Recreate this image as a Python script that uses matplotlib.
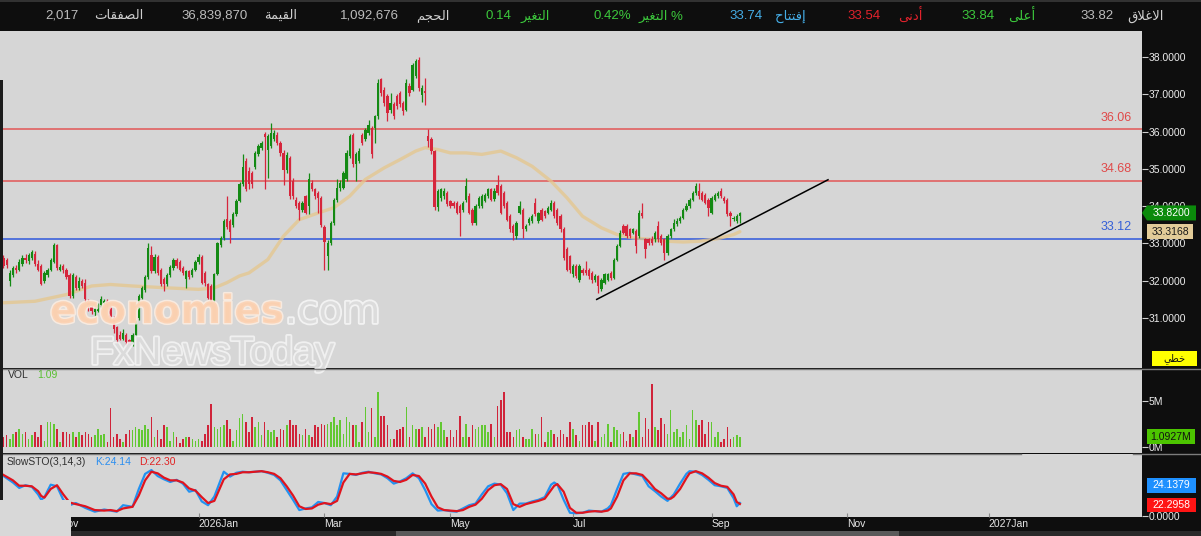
import numpy as np
import pandas as pd
import matplotlib
matplotlib.use("Agg")
import matplotlib.pyplot as plt
from matplotlib.patches import Rectangle, Polygon
from matplotlib.ticker import FormatStrFormatter
import matplotlib.patheffects as pe

# ---------------- data ----------------
first_day = "2025-10-07"
market_holidays = ["2026-02-22", "2026-03-18", "2026-03-19", "2026-03-22", "2026-03-23",
                   "2026-03-24", "2026-05-26", "2026-05-27", "2026-05-28", "2026-05-31"]

open_ = [
32.62,32.55,32.00,32.15,32.35,32.28,32.45,32.62,32.52,32.62,
32.72,32.45,32.40,32.00,32.15,32.30,32.50,32.95,32.30,32.40,
32.30,32.15,31.60,32.10,31.80,32.00,31.95,31.45,31.30,31.15,
31.20,31.35,31.40,31.45,31.30,31.00,30.75,30.55,30.45,30.55,
30.40,30.30,30.55,31.00,31.55,31.75,32.10,32.70,32.25,32.65,
32.30,32.05,31.90,32.15,32.35,32.55,32.50,32.35,32.05,32.25,
32.15,32.30,32.50,32.65,32.20,31.90,31.85,31.45,32.18,32.95,
33.15,33.65,33.60,33.50,33.80,34.15,34.60,35.20,34.95,34.90,
35.05,35.40,35.55,35.95,35.52,35.61,35.80,35.92,35.70,35.43,
34.98,35.30,34.67,34.18,34.09,33.91,34.27,34.00,34.63,34.45,
34.36,34.22,33.45,32.66,33.02,33.56,34.18,34.49,34.49,34.72,
35.34,35.92,35.12,35.20,35.92,35.79,35.97,36.10,36.10,36.41,
37.40,37.13,36.95,36.59,36.73,36.95,37.04,36.77,36.59,37.22,
37.13,37.49,37.93,36.99,37.08,35.88,35.79,35.48,33.99,34.22,
34.27,34.36,34.13,34.09,34.09,34.00,33.91,34.18,34.27,33.91,
33.56,34.00,34.00,34.13,34.27,34.45,34.20,34.58,34.54,34.36,
34.09,33.73,33.47,33.20,33.82,33.91,33.38,33.56,33.60,34.09,
33.60,33.91,33.86,33.82,33.91,34.09,33.91,33.73,33.38,32.84,
32.66,32.17,32.39,32.03,32.30,32.30,32.30,32.21,32.03,32.12,
31.77,31.95,32.03,32.21,32.08,32.57,32.93,33.47,33.47,33.38,
33.29,33.33,33.20,33.82,33.11,33.11,33.11,33.11,33.47,33.20,
33.11,32.75,33.20,33.38,33.52,33.60,33.69,33.91,34.00,34.18,
34.36,34.40,34.36,34.31,34.18,33.82,34.18,34.27,34.40,34.22,
34.18,33.82,33.65,33.60,33.74]

high = [
32.68,32.60,32.28,32.40,32.42,32.58,32.70,32.72,32.75,32.82,
32.80,32.55,32.45,32.25,32.35,32.60,33.02,32.98,32.45,32.45,
32.35,32.20,32.20,32.15,32.10,32.05,32.05,31.50,31.35,31.30,
31.40,31.60,31.50,31.50,31.35,31.05,30.80,30.65,30.70,30.60,
30.45,30.60,30.95,31.65,31.85,32.15,33.02,32.92,32.72,32.70,
32.35,32.10,32.20,32.42,32.60,32.60,32.55,32.40,32.30,32.30,
32.35,32.55,32.72,32.70,32.25,31.95,31.90,32.20,33.05,33.20,
33.65,34.27,33.65,33.85,34.20,34.65,35.39,35.30,35.05,34.95,
35.48,35.68,35.75,36.00,35.95,36.23,36.05,36.00,35.75,35.50,
35.45,35.35,34.75,34.25,34.15,34.15,34.30,34.90,34.70,34.50,
34.40,34.28,33.50,33.10,33.60,34.22,34.72,34.70,34.95,35.50,
35.95,35.97,35.45,35.55,35.97,36.10,36.30,36.15,36.45,37.40,
37.45,37.20,37.00,37.04,36.80,37.00,37.10,36.82,37.40,37.30,
37.85,37.95,38.00,37.25,37.44,36.06,35.85,35.52,34.45,34.50,
34.48,34.40,34.18,34.15,34.15,34.05,34.15,34.76,34.35,33.95,
34.05,34.27,34.33,34.36,34.50,34.50,34.50,34.85,34.60,34.40,
34.15,33.78,33.52,33.60,34.13,33.95,33.52,33.70,33.78,34.22,
33.85,33.95,33.90,34.00,34.18,34.13,33.95,33.78,33.45,32.90,
32.70,32.45,32.45,32.45,32.35,32.52,32.35,32.25,32.18,32.15,
32.08,32.20,32.22,32.25,32.62,32.98,33.35,33.52,33.52,33.42,
33.42,33.38,33.90,34.09,33.15,33.15,33.20,33.33,33.60,33.25,
33.15,33.25,33.42,33.65,33.68,33.75,33.95,34.09,34.22,34.40,
34.63,34.63,34.40,34.36,34.22,34.27,34.36,34.40,34.49,34.27,
34.22,33.86,33.75,33.78,33.84]

low = [
32.35,32.35,31.86,32.10,32.22,32.25,32.40,32.48,32.45,32.55,
32.40,32.25,31.88,31.95,32.10,32.25,32.48,32.30,32.25,32.20,
32.05,31.55,31.55,31.75,31.75,31.80,31.40,31.20,31.10,31.05,
31.15,31.30,31.35,31.30,30.95,30.60,30.30,30.40,30.40,30.28,
30.25,30.25,30.50,30.95,31.50,31.70,32.05,32.20,32.20,32.15,
31.85,31.72,31.85,32.10,32.30,32.35,32.25,32.15,31.80,32.05,
32.10,32.25,32.45,31.90,31.85,31.50,31.40,31.42,32.15,32.90,
33.10,33.40,33.00,33.45,33.75,34.10,34.55,34.40,34.45,34.50,
35.00,35.35,35.50,34.45,34.76,35.55,35.75,35.65,35.35,34.58,
34.90,34.20,34.20,33.95,33.64,33.85,33.78,33.78,34.40,34.20,
33.82,33.45,32.30,32.30,32.95,33.50,34.10,34.40,34.45,34.68,
35.30,35.05,34.67,35.15,35.65,35.75,35.90,35.30,35.70,36.35,
36.95,36.70,36.28,36.50,36.35,36.60,36.65,36.45,36.55,36.95,
37.10,37.45,37.10,36.80,36.72,35.60,35.40,33.90,33.86,34.15,
34.20,34.00,33.95,33.95,33.78,33.20,33.85,34.10,33.78,33.50,
33.50,33.95,33.95,34.10,34.22,34.13,34.15,34.30,33.78,33.95,
33.60,33.30,33.10,33.11,33.78,33.15,33.33,33.50,33.55,33.73,
33.55,33.60,33.68,33.78,33.86,33.68,33.50,33.30,32.55,32.25,
32.20,32.10,32.08,31.98,32.15,32.15,32.05,31.95,31.98,31.68,
31.72,31.90,32.00,32.03,32.05,32.52,32.90,33.25,33.15,33.15,
33.25,32.75,33.15,33.68,32.61,32.95,32.95,33.05,33.05,32.95,
32.57,32.70,33.15,33.33,33.48,33.55,33.65,33.86,33.95,34.13,
34.30,34.20,34.13,34.05,33.73,33.78,34.13,34.22,34.22,34.09,
33.73,33.47,33.60,33.55,33.54]

close = [
32.40,32.42,32.20,32.35,32.28,32.50,32.62,32.55,32.68,32.78,
32.45,32.30,31.90,32.20,32.30,32.55,32.95,32.35,32.38,32.30,
32.10,31.60,32.15,31.80,32.00,31.85,31.50,31.30,31.20,31.25,
31.35,31.50,31.45,31.35,31.00,30.70,30.40,30.45,30.60,30.35,
30.30,30.55,30.90,31.60,31.80,32.10,32.88,32.25,32.65,32.20,
31.90,31.90,32.15,32.38,32.55,32.40,32.30,32.20,32.25,32.10,
32.30,32.50,32.65,31.95,31.95,31.55,31.45,32.18,33.00,33.15,
33.60,33.45,33.30,33.80,34.15,34.60,35.05,34.45,34.60,34.60,
35.43,35.61,35.70,35.85,35.88,35.97,35.97,35.70,35.43,34.98,
35.38,34.27,34.27,34.00,33.91,34.09,33.82,34.72,34.45,34.27,
34.22,33.50,33.05,33.02,33.56,34.18,34.49,34.63,34.90,35.43,
35.88,35.12,35.39,35.48,35.70,36.05,36.19,35.39,36.41,37.31,
37.04,36.77,36.50,36.77,36.41,36.68,36.73,36.55,37.31,37.04,
37.80,37.89,37.17,37.17,37.04,35.75,35.48,33.99,34.40,34.45,
34.40,34.05,34.00,34.00,33.82,33.82,34.09,34.54,33.82,33.56,
34.00,34.22,34.27,34.31,34.45,34.18,34.40,34.36,33.82,34.00,
33.64,33.38,33.29,33.56,34.00,33.38,33.47,33.65,33.73,33.78,
33.82,33.64,33.73,33.95,34.09,33.73,33.56,33.38,32.61,32.30,
32.30,32.39,32.12,32.39,32.21,32.21,32.12,32.03,32.12,31.86,
32.03,32.17,32.17,32.08,32.57,32.93,33.29,33.29,33.20,33.20,
33.38,32.93,33.82,33.73,32.84,33.02,33.02,33.29,33.11,33.02,
32.75,33.20,33.38,33.56,33.60,33.69,33.91,34.00,34.18,34.36,
34.54,34.27,34.18,34.09,33.95,34.22,34.31,34.36,34.27,34.13,
33.78,33.73,33.69,33.74,33.82]

volume_m = [
1.1,1.3,0.9,1.4,1.6,2.0,1.4,1.6,0.9,1.3,
1.6,1.1,2.4,0.7,2.7,2.7,2.5,2.0,0.5,1.6,
1.6,1.4,1.6,1.1,1.6,1.3,1.6,1.4,1.1,1.3,
2.0,1.3,1.4,0.5,4.2,1.1,1.4,0.9,0.5,1.4,
1.8,1.8,2.2,2.0,1.8,2.4,2.0,3.3,1.1,1.8,
0.9,2.4,2.2,0.7,1.6,1.1,0.4,0.9,1.1,1.1,
0.9,0.7,0.9,0.7,1.4,2.4,4.7,2.2,2.0,2.2,
2.4,2.9,2.0,0.7,1.8,3.1,3.6,2.7,
1.6,3.3,2.2,2.7,1.3,2.7,1.8,1.6,1.8,1.1,
2.0,1.8,2.4,2.9,2.4,2.4,1.4,1.3,2.0,1.3,
1.1,2.4,2.2,2.5,2.4,2.5,2.7,3.3,2.4,2.9,
1.4,3.3,2.7,2.4,2.4,0.5,2.7,4.3,1.6,4.2,
1.1,6.0,3.4,3.4,2.4,0.9,0.9,1.8,2.0,2.2,
4.3,1.1,2.4,2.0,2.0,2.2,1.1,2.2,2.0,2.5,
2.2,2.7,1.8,1.1,1.8,1.1,1.8,3.4,1.1,2.5,
1.1,2.4,2.0,2.2,2.4,2.4,1.6,2.5,1.1,4.5,
5.1,6.0,1.6,1.6,1.1,1.8,2.0,1.1,0.9,0.9,
2.0,1.4,1.4,3.3,0.5,1.6,1.8,1.4,1.1,1.8,
1.4,1.1,2.7,2.0,1.3,0.7,2.4,2.4,2.7,2.4,
0.7,2.7,1.1,1.4,2.5,0.5,2.2,1.8,1.4,1.6,
0.7,1.4,1.1,1.8,3.8,1.1,3.1,2.0,6.9,2.2,
1.8,3.1,2.5,1.4,4.0,1.6,2.0,1.1,1.6,2.4,
0.9,4.0,2.9,2.4,2.9,1.4,2.7,2.7,1.1,1.6,
0.5,0.9,2.2,0.9,1.1,1.3,1.0927]

# moving average (bar number, value)
ma_bar = [0,10,20,28,34,41,52,62,67,71,75,78,84,89,94,100,105,110,115,121,126,131,134,138,142,
          147,152,158,163,168,174,179,184,190,195,200,206,211,216,221,227,232,234]
ma_val = [31.41,31.45,31.63,31.86,31.90,31.86,31.81,31.77,31.81,31.95,32.13,32.21,32.57,33.20,
          33.64,33.82,33.96,34.27,34.72,35.03,35.25,35.48,35.57,35.52,35.43,35.43,35.39,35.48,
          35.30,35.07,34.67,34.23,33.73,33.42,33.24,33.15,33.11,33.06,33.04,33.06,33.13,33.24,33.3168]

# slow stochastic
sto_bar = [0,3,5,7,9,11,12,13,15,17,19,21,23,26,29,32,34,36,38,41,43,45,47,49,51,53,55,57,59,61,
           63,65,67,70,72,74,76,78,80,82,84,86,88,90,92,94,96,98,100,102,104,106,108,110,112,114,
           116,118,120,122,124,126,128,130,132,134,136,138,140,142,144,146,148,150,152,154,156,158,
           160,162,164,166,168,170,172,174,175,176,178,180,182,184,186,188,190,192,193,195,197,199,
           201,203,205,207,209,211,212,213,215,217,218,220,222,224,226,228,230,232,233,234]
sto_k = [74,62,52,57,54,40,30,35,58,55,30,20,24,15,8,12,10,8,20,17,
         50,78,85,74,68,63,67,60,45,48,27,20,36,82,73,80,82,81,82,83,
         80,76,66,48,30,11,14,16,26,24,20,36,79,78,76,80,82,79,77,70,
         60,64,70,79,70,48,22,10,11,9,8,14,20,23,40,55,60,58,42,11,
         23,23,27,30,35,58,62,58,30,6,5,6,10,9,8,14,20,50,78,80,
         77,74,55,46,36,28,34,40,60,78,83,82,76,67,57,55,52,33,18,24.1379]
sto_d = [76,66,56,56,55,46,37,34,50,57,40,25,22,18,11,10,11,9,14,17,
         38,66,82,79,71,66,66,62,51,47,35,24,28,68,77,78,81,81,82,83,
         81,78,70,55,38,18,13,14,21,24,22,28,62,78,77,79,81,80,78,73,
         65,63,67,76,74,60,36,16,11,10,9,11,17,21,32,48,57,59,50,22,
         17,22,25,28,32,48,56,59,45,15,6,6,8,9,8,10,14,36,66,79,
         79,76,64,50,42,32,32,36,50,70,79,83,79,71,61,56,54,40,26,22.2958]

levels_red = [36.06, 34.68]
level_blue = 33.12
trend_bar = [188.5, 262.0]
trend_price = [31.50, 34.71]

tick_months = [(2025, 11), (2026, 1), (2026, 3), (2026, 5), (2026, 7), (2026, 9), (2026, 11), (2027, 1)]
tick_names = ["Nov", "2026Jan", "Mar", "May", "Jul", "Sep", "Nov", "2027Jan"]

price_ticks = [31, 32, 33, 34, 35, 36, 37, 38]

header_labels = ["الصفقات", "القيمة", "الحجم", "التغير", "التغير", "إفتتاح", "أدنى", "أعلى", "الاغلاق"]
header_values = ["2,017", "36,839,870", "1,092,676", "0.14", "0.42%", "33.74", "33.54", "33.84", "33.82"]

# ---------------- Arabic shaping (presentation forms, visual order) ----------------
AR = {
    'ا': ('\uFE8D', '\uFE8E', None, None), 'أ': ('\uFE83', '\uFE84', None, None),
    'إ': ('\uFE87', '\uFE88', None, None), 'ل': ('\uFEDD', '\uFEDE', '\uFEDF', '\uFEE0'),
    'غ': ('\uFECD', '\uFECE', '\uFECF', '\uFED0'), 'ق': ('\uFED5', '\uFED6', '\uFED7', '\uFED8'),
    'ع': ('\uFEC9', '\uFECA', '\uFECB', '\uFECC'), 'ى': ('\uFEEF', '\uFEF0', None, None),
    'د': ('\uFEA9', '\uFEAA', None, None), 'ن': ('\uFEE5', '\uFEE6', '\uFEE7', '\uFEE8'),
    'ف': ('\uFED1', '\uFED2', '\uFED3', '\uFED4'), 'ت': ('\uFE95', '\uFE96', '\uFE97', '\uFE98'),
    'ح': ('\uFEA1', '\uFEA2', '\uFEA3', '\uFEA4'), 'ي': ('\uFEF1', '\uFEF2', '\uFEF3', '\uFEF4'),
    'ر': ('\uFEAD', '\uFEAE', None, None), 'ج': ('\uFE9D', '\uFE9E', '\uFE9F', '\uFEA0'),
    'م': ('\uFEE1', '\uFEE2', '\uFEE3', '\uFEE4'), 'ص': ('\uFEB9', '\uFEBA', '\uFEBB', '\uFEBC'),
    'ة': ('\uFE93', '\uFE94', None, None), 'خ': ('\uFEA5', '\uFEA6', '\uFEA7', '\uFEA8'),
    'ط': ('\uFEC1', '\uFEC2', '\uFEC3', '\uFEC4'),
}
LAMALEF = {'ا': ('\uFEFB', '\uFEFC'), 'أ': ('\uFEF7', '\uFEF8'), 'إ': ('\uFEF9', '\uFEFA')}


def shape(word):
    out, prev = [], False
    i, n = 0, len(word)
    while i < n:
        c = word[i]
        if c not in AR:
            out.append(c); prev = False; i += 1; continue
        if c == 'ل' and i + 1 < n and word[i + 1] in LAMALEF:
            iso, fin = LAMALEF[word[i + 1]]
            out.append(fin if prev else iso)
            prev = False; i += 2; continue
        f = AR[c]
        dual = f[2] is not None
        nxt = (i + 1 < n) and (word[i + 1] in AR)
        jn = dual and nxt
        if prev and jn:
            g = f[3]
        elif prev:
            g = f[1]
        elif jn:
            g = f[2]
        else:
            g = f[0]
        out.append(g)
        prev = dual
        i += 1
    return ''.join(reversed(out))


# ---------------- figure ----------------
W, H = 1201, 536
plt.rcParams['font.family'] = ['Liberation Sans', 'DejaVu Sans']
fig = plt.figure(figsize=(W / 100, H / 100), dpi=100, facecolor='#0e0e0e')


def fx(x):
    return x / W


def fy(y):
    return 1 - y / H


def add_ax(x0, y0, x1, y1, fc):
    a = fig.add_axes([fx(x0), fy(y1), (x1 - x0) / W, (y1 - y0) / H], facecolor=fc)
    for s in a.spines.values():
        s.set_visible(False)
    return a


def rect(x0, y0, x1, y1, color, z=5):
    fig.add_artist(Rectangle((fx(x0), fy(y1)), (x1 - x0) / W, (y1 - y0) / H,
                             transform=fig.transFigure, facecolor=color, edgecolor='none', zorder=z))


def hline(y, x0, x1, color='#7c7c7c', lw=1.0):
    fig.add_artist(plt.Line2D([fx(x0), fx(x1)], [fy(y), fy(y)], transform=fig.transFigure,
                              color=color, lw=lw, zorder=5))


cal = pd.bdate_range(first_day, "2027-03-31", freq='C', weekmask='Sun Mon Tue Wed Thu',
                     holidays=market_holidays)
o = np.array(open_); h = np.array(high); l = np.array(low); c = np.array(close)
n = len(c)
bars = np.arange(n)
tick_pos = [int(np.argmax((cal.year == y) & (cal.month == m))) for (y, m) in tick_months]

PX_PER_BAR = 3.147
x_left = -1.11
x_right = x_left + 1142 / PX_PER_BAR

BG = '#d6d6d6'
GREEN = '#148a14'
RED = '#d6263c'

# ---- main price panel ----
ax = add_ax(0, 31, 1142, 368, BG)
ylo, yhi = 29.66, 38.70
ax.set_xlim(x_left, x_right)
ax.set_ylim(ylo, yhi)
up = c >= o
col = np.where(up, GREEN, RED)
ax.plot(ma_bar, ma_val, color='#e6c68c', lw=2.4, alpha=0.75, zorder=2, solid_capstyle='round')
ax.vlines(bars, np.minimum(l, np.minimum(o, c)), np.maximum(h, np.maximum(o, c)),
          colors=col, lw=0.9, zorder=3)
ax.bar(bars, np.maximum(np.abs(c - o), 0.02), bottom=np.minimum(o, c), width=0.72,
       color=col, lw=0, zorder=4)
for lv in levels_red:
    ax.axhline(lv, color='#e07272', lw=1.4, zorder=1)
    ax.annotate(f"{lv:.2f}", xy=(1132 / 1142, lv), xycoords=('axes fraction', 'data'),
                xytext=(0, 4), textcoords='offset points', ha='right', va='bottom',
                color='#e04a4a', fontsize=9)
ax.axhline(level_blue, color='#3058dc', lw=1.1, zorder=1)
ax.annotate(f"{level_blue:.2f}", xy=(1132 / 1142, level_blue), xycoords=('axes fraction', 'data'),
            xytext=(0, 4), textcoords='offset points', ha='right', va='bottom',
            color='#3560d8', fontsize=9)
ax.plot(trend_bar, trend_price, color='black', lw=1.1, zorder=5)
ax.set_xticks([])
ax.yaxis.tick_right()
ax.set_yticks(price_ticks)
ax.yaxis.set_major_formatter(FormatStrFormatter('%.4f'))
ax.tick_params(axis='y', colors='#cfcfcf', labelcolor='#ececec', labelsize=7.5,
               length=4, width=0.8, pad=1)

# ---- volume panel ----
axv = add_ax(0, 369, 1142, 453, BG)
axv.set_xlim(x_left, x_right)
axv.set_ylim(-0.65, 8.48)
vcol = np.where(up, '#62c832', '#d0243a')
axv.bar(bars, volume_m, width=0.5, color=vcol, lw=0)
axv.set_xticks([])
axv.yaxis.tick_right()
axv.set_yticks([0, 5])
axv.set_yticklabels(['0M', '5M'])
axv.tick_params(axis='y', colors='#cfcfcf', labelcolor='#ececec', labelsize=7.5,
                length=4, width=0.8, pad=1)
axv.text(8 / 1142, 0.93, "VOL", transform=axv.transAxes, color='#303030', fontsize=7.5,
         va='center', ha='left')
axv.text(37 / 1142, 0.93, f"{volume_m[-1]:.2f}", transform=axv.transAxes, color='#58c030',
         fontsize=7.5, va='center', ha='left')

# ---- stochastic panel ----
axs = add_ax(0, 454, 1142, 517, BG)
axs.set_xlim(x_left, x_right)
axs.set_ylim(-1.85, 114.8)
axs.plot(sto_bar, sto_k, color='#2392f0', lw=1.6, zorder=3)
axs.plot(sto_bar, sto_d, color='#e0141e', lw=1.6, zorder=4)
axs.yaxis.tick_right()
axs.set_yticks([0])
axs.set_yticklabels(['0.0000'])
axs.tick_params(axis='y', colors='#cfcfcf', labelcolor='#ececec', labelsize=7.5,
                length=4, width=0.8, pad=1)
axs.set_xticks(tick_pos)
axs.set_xticklabels(tick_names)
axs.tick_params(axis='x', direction='in', length=3, color='#8a8a8a', labelcolor='#e6e6e6',
                labelsize=7.5, pad=1.5)
for t in axs.get_xticklabels():
    t.set_ha('left')
axs.text(7 / 1142, 0.88, "SlowSTO(3,14,3)", transform=axs.transAxes, color='#303030',
         fontsize=7.5, va='center', ha='left')
axs.text(95 / 1142, 0.88, f"K:{sto_k[-1]:.2f}", transform=axs.transAxes, color='#2a8ef0',
         fontsize=7.5, va='center', ha='left')
axs.text(139 / 1142, 0.88, f"D:{sto_d[-1]:.2f}", transform=axs.transAxes, color='#e02222',
         fontsize=7.5, va='center', ha='left')

# ---- separators and frame pieces ----
hline(368.5, 0, 1201)
hline(453.8, 0, 1021)
hline(453.8, 1133, 1201)
rect(0, 531, 1201, 536, '#2a2a2a', z=5)
rect(396, 531, 899, 536, '#5a5a5a', z=6)
rect(0, 80, 3, 500, '#1c1c1c', z=6)
rect(0, 500, 71, 536, '#d8d8d8', z=8)
hline(0.6, 0, 1201, color='#3a3a3a', lw=1.2)

# ---- watermark ----
t1 = fig.text(fx(50), fy(323), "economies", fontsize=28, fontweight='bold', family='DejaVu Sans',
              color='#fbd0b0', alpha=0.85, va='baseline', ha='left', zorder=4,
              path_effects=[pe.withStroke(linewidth=2.2, foreground='#fdeee2')])
fig.canvas.draw()
bb = t1.get_window_extent()
fig.text(bb.x1 / W + 0.001, fy(323), ".com", fontsize=28, family='DejaVu Sans',
         color='#dadada', alpha=0.9, va='baseline', ha='left', zorder=4,
         path_effects=[pe.withStroke(linewidth=2.6, foreground='#f6f6f6')])
fig.text(fx(90), fy(364), "FxNewsToday", fontsize=28, family='Liberation Sans',
         color='#d9d9d9', alpha=0.9, va='baseline', ha='left', zorder=4,
         path_effects=[pe.withStroke(linewidth=2.6, foreground='#f3f3f3')])


# ---- right side value tags ----
def tag(x0, y0, x1, y1, color, text, tcolor, arrow=False, fs=7.5):
    if arrow:
        pts = [(1142, (y0 + y1) / 2), (x0, y0), (x1, y0), (x1, y1), (x0, y1)]
    else:
        pts = [(x0, y0), (x1, y0), (x1, y1), (x0, y1)]
    fig.add_artist(Polygon([(fx(a), fy(b)) for a, b in pts], closed=True,
                           transform=fig.transFigure, facecolor=color, edgecolor='none', zorder=7))
    fig.text(fx((x0 + x1) / 2), fy((y0 + y1) / 2), text, color=tcolor, fontsize=fs,
             ha='center', va='center', zorder=8)


def price_y(p):
    return 31 + (yhi - p) / (yhi - ylo) * 337


yc = price_y(close[-1])
tag(1147, yc - 7.5, 1196, yc + 7.5, '#0b8a0b', f"{close[-1]:.4f}", 'white', arrow=True)
ym = price_y(ma_val[-1])
tag(1147, ym - 7.5, 1193, ym + 7.5, '#e2cb98', f"{ma_val[-1]:.4f}", '#1a1a1a')
tag(1152, 351, 1197, 366, '#ffff00', shape("خطي"), '#111111', fs=7)
tag(1147, 429, 1195, 444, '#4cc400', f"{volume_m[-1]:.4f}M", '#111111')
tag(1147, 478, 1196, 493, '#1e90ff', f"{sto_k[-1]:.4f}", 'white')
tag(1147, 498, 1196, 512, '#ff1414', f"{sto_d[-1]:.4f}", 'white')

# ---- header bar ----
lab_x = [94, 264, 416, 521, 638, 775, 898, 1008, 1127]
val_x = [45, 181, 340, 485, 594, 729, 847, 961, 1080]
lab_col = ['#cfcfcf', '#cfcfcf', '#cfcfcf', '#3cc83c', '#3cc83c', '#45aee8', '#e2222c', '#3cc83c', '#cfcfcf']
val_col = ['#bdbdbd', '#bdbdbd', '#bdbdbd', '#3cc83c', '#3cc83c', '#45aee8', '#e2222c', '#3cc83c', '#bdbdbd']
for k, (lab, val) in enumerate(zip(header_labels, header_values)):
    s = shape(lab)
    if k == 4:
        s = s + " %"
    fig.text(fx(lab_x[k]), fy(16), s, color=lab_col[k], fontsize=9.5, ha='left', va='center')
    fig.text(fx(val_x[k]), fy(16), val, color=val_col[k], fontsize=9.5, ha='left', va='center')

fig.savefig("out.png", dpi=100, facecolor=fig.get_facecolor())
